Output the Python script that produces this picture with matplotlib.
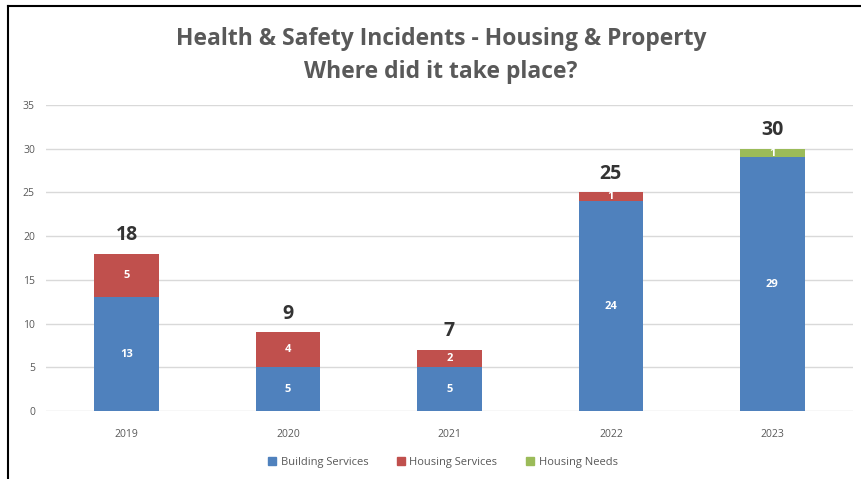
import matplotlib
matplotlib.use("Agg")
import matplotlib.pyplot as plt
from matplotlib.lines import Line2D
import numpy as np

years = ["2019", "2020", "2021", "2022", "2023"]
building_services = [13, 5, 5, 24, 29]
housing_services = [5, 4, 2, 1, 0]
housing_needs = [0, 0, 0, 0, 1]
totals = [18, 9, 7, 25, 30]
y_ticks = [0, 5, 10, 15, 20, 25, 30, 35]

BLUE = "#4F81BD"
RED = "#C0504D"
GREEN = "#9BBB59"
GREY = "#595959"

plt.rcParams["font.family"] = ["Open Sans", "DejaVu Sans"]

W, H = 861, 479
fig = plt.figure(figsize=(W / 100, H / 100), dpi=100)
ax = fig.add_axes([46 / W, 1 - 411 / H, (853 - 46) / W, (411 - 105) / H])

x = np.arange(len(years))
bw = 0.4
series = [
    ("Building Services", building_services, BLUE),
    ("Housing Services", housing_services, RED),
    ("Housing Needs", housing_needs, GREEN),
]
bottom = np.zeros(len(years))
for name, vals, col in series:
    vals = np.array(vals, dtype=float)
    ax.bar(x, vals, bw, bottom=bottom, color=col, label=name, zorder=3)
    for xi, v, b in zip(x, vals, bottom):
        if v > 0:
            ax.text(xi, b + v / 2, f"{int(v)}", ha="center", va="center",
                    color="white", fontsize=8, fontweight="bold", zorder=4)
    bottom += vals

for xi, t in zip(x, totals):
    ax.text(xi, t + 1.0, f"{t}", ha="center", va="bottom", color="#333333",
            fontsize=14, fontweight="bold")

ax.set_xlim(-0.5, len(years) - 0.5)
ax.set_ylim(0, 35)
ax.set_yticks(y_ticks)
ax.set_xticks(x)
ax.set_xticklabels(years)
ax.tick_params(axis="both", length=0, labelsize=7.5, colors=GREY)
ax.tick_params(axis="y", pad=8)
ax.tick_params(axis="x", pad=13)
ax.grid(axis="y", color="#D9D9D9", linewidth=1.0, zorder=0)
for s in ax.spines.values():
    s.set_visible(False)

fig.text(441 / W, 1 - 39 / H, "Health & Safety Incidents - Housing & Property",
         ha="center", va="center", fontsize=16.5, fontweight="bold", color=GREY)
fig.text(441 / W, 1 - 72 / H, "Where did it take place?",
         ha="center", va="center", fontsize=16.5, fontweight="bold", color=GREY)

handles = [plt.Rectangle((0, 0), 1, 1, color=c) for _, _, c in series]
fig.legend(handles, [n for n, _, _ in series], loc="center",
           bbox_to_anchor=(443 / W, 1 - 462 / H), ncol=3, frameon=False,
           fontsize=8, labelcolor=GREY, handlelength=0.7, handleheight=0.7,
           handletextpad=0.4, columnspacing=2.6)

fig.add_artist(Line2D([7.5 / W, 1], [1 - 5.5 / H, 1 - 5.5 / H],
                      color="black", linewidth=1.5, transform=fig.transFigure))
fig.add_artist(Line2D([7.5 / W, 7.5 / W], [0, 1 - 5.5 / H],
                      color="black", linewidth=1.5, transform=fig.transFigure))

fig.savefig("out.png", dpi=100, facecolor="white")
